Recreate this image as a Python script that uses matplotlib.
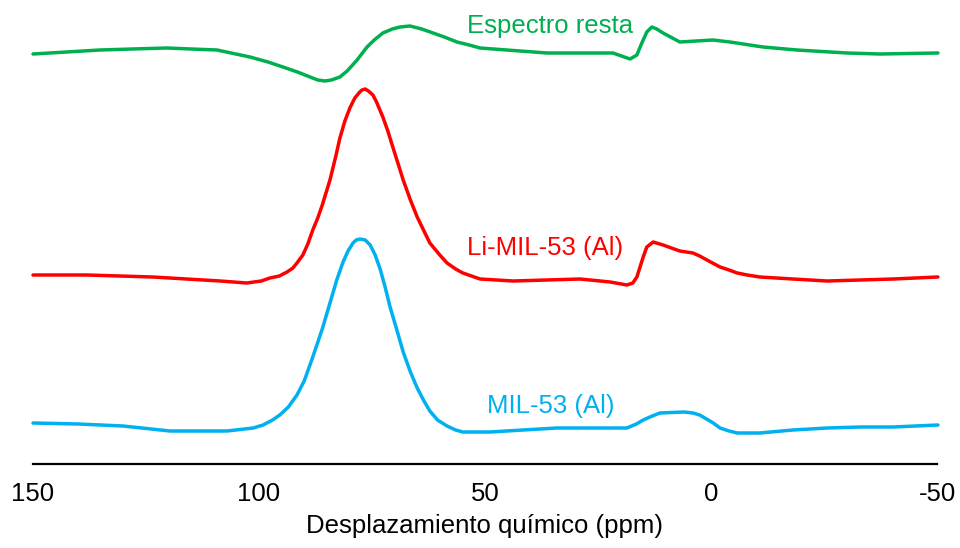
import matplotlib
matplotlib.use("Agg")
import matplotlib.pyplot as plt

# 27Al MAS NMR spectra (arbitrary intensity units, each relative to its own baseline)
ppm_mil53 = [150.0, 140.0, 130.1, 119.7, 107.1, 101.3, 99.1, 97.0, 95.4, 93.5,
             91.6, 90.0, 88.1, 86.0, 84.3, 82.8, 81.4, 80.3, 79.2, 78.5,
             77.7, 76.5, 75.4, 74.3, 73.2, 72.1, 71.0, 69.5, 68.1, 66.5,
             65.0, 63.5, 62.2, 60.5, 58.4, 56.5, 54.9, 48.9, 41.6, 34.1, 26.8,
             18.6, 16.5, 15.0, 13.0, 11.3, 6.0, 4.0, 2.5, 1.0, -0.5,
             -2.0, -4.0, -5.8, -10.8, -18.1, -25.7, -33.0, -40.3, -50.2]
int_mil53 = [2, 1, -1, -6, -6, -3, 0, 5, 10, 18,
             30, 44, 68, 96, 122, 145, 163, 174, 182, 185,
             186, 185, 180, 170, 156, 138, 118, 95, 73, 53,
             37, 24, 14, 5, -1, -5, -7, -7, -5, -3, -3,
             -3, 1, 5, 9, 12, 13, 12, 10, 6, 2,
             -3, -6, -8, -8, -5, -3, -2, -2, 0]

ppm_li = [150.0, 138.1, 123.5, 108.6, 102.7, 99.5, 97.6, 95.5, 93.8, 92.5,
          91.6, 90.3, 89.2, 88.1, 87.0, 86.0, 84.3, 83.0, 82.1, 81.0, 79.9,
          78.8, 77.7, 77.2, 76.5, 75.8, 74.8, 74.0, 72.6, 71.5, 70.4, 69.0, 68.1,
          66.5, 65.0, 63.5, 62.2, 60.0, 58.4, 56.5, 54.9, 51.1, 43.8,
          36.3, 29.0, 22.3, 18.6, 17.3, 16.4, 15.0, 14.2, 12.8, 10.6,
          6.9, 4.0, 2.5, 0.9, -2.0, -4.0, -5.8, -8.0, -10.8, -18.1,
          -25.7, -33.0, -40.3, -50.2]
int_li = [3, 3, 1, -3, -5, -3, 0, 2, 6, 10,
          15, 23, 34, 48, 60, 73, 98, 122, 140, 157, 170,
          180, 186, 188, 189, 187, 183, 176, 161, 147, 131, 111, 98,
          78, 61, 47, 35, 23, 15, 9, 5, -1, -3,
          -2, -1, -4, -7, -5, 1, 21, 31, 36, 33,
          27, 25, 22, 18, 11, 8, 5, 3, 1, -1,
          -3, -2, -1, 1]

ppm_diff = [150.0, 135.2, 128.0, 120.4, 115.0, 109.3, 102.0, 98.0, 94.7, 91.5,
            88.7, 87.0, 85.4, 84.0, 82.1, 80.5, 78.3, 76.1, 74.5, 72.6,
            70.5, 68.8, 66.6, 64.0, 61.5, 59.0, 56.2, 53.5, 51.1, 36.3,
            21.7, 17.9, 16.4, 15.3, 14.2, 13.1, 12.0, 10.6, 6.9, -0.4,
            -4.2, -11.5, -19.0, -30.1, -37.4, -50.2]
int_diff = [-1, 3, 4, 5, 4, 3, -4, -9, -14, -19,
            -24, -27, -28, -27, -24, -18, -7, 6, 13, 20,
            24, 26, 27, 24, 20, 16, 11, 8, 5, 0,
            0, -6, -2, 10, 21, 26, 24, 20, 11, 13,
            11, 6, 3, 0, -1, 0]

labels = ["MIL-53 (Al)", "Li-MIL-53 (Al)", "Espectro resta"]
colors = ["#00B0F0", "#FF0000", "#00B050"]
offsets = [39, 186, 411]
label_pos = [(35.4, 51), (36.7, 209), (35.6, 431)]

xticks = [150, 100, 50, 0, -50]
xticklabels = ["150", "100", "50", "0", "-50"]
xlabel = "Desplazamiento químico (ppm)"

plt.rcParams["font.family"] = ["Liberation Sans", "DejaVu Sans"]

fig = plt.figure(figsize=(9.6, 5.48), dpi=100)
ax = fig.add_axes([33 / 960, 84 / 548, 904 / 960, 464 / 548])

series = [(ppm_mil53, int_mil53), (ppm_li, int_li), (ppm_diff, int_diff)]
for (x, y), off, c, lab, (tx, ty) in zip(series, offsets, colors, labels, label_pos):
    ax.plot(x, [v + off for v in y], color=c, lw=2.5, solid_joinstyle="round",
            solid_capstyle="round", clip_on=False)
    ax.text(tx, ty, lab, color=c, fontsize=18.5, ha="center", va="baseline")

ax.set_xlim(150, -50)
ax.set_ylim(0, 464)
ax.set_yticks([])
ax.set_xticks(xticks)
ax.set_xticklabels(xticklabels)
ax.tick_params(axis="x", length=0, pad=13, labelsize=18.5)
for s in ["top", "left", "right"]:
    ax.spines[s].set_visible(False)
ax.spines["bottom"].set_linewidth(1.6)
ax.set_xlabel(xlabel, fontsize=18.5, labelpad=6)

fig.savefig("out.png", dpi=100)
